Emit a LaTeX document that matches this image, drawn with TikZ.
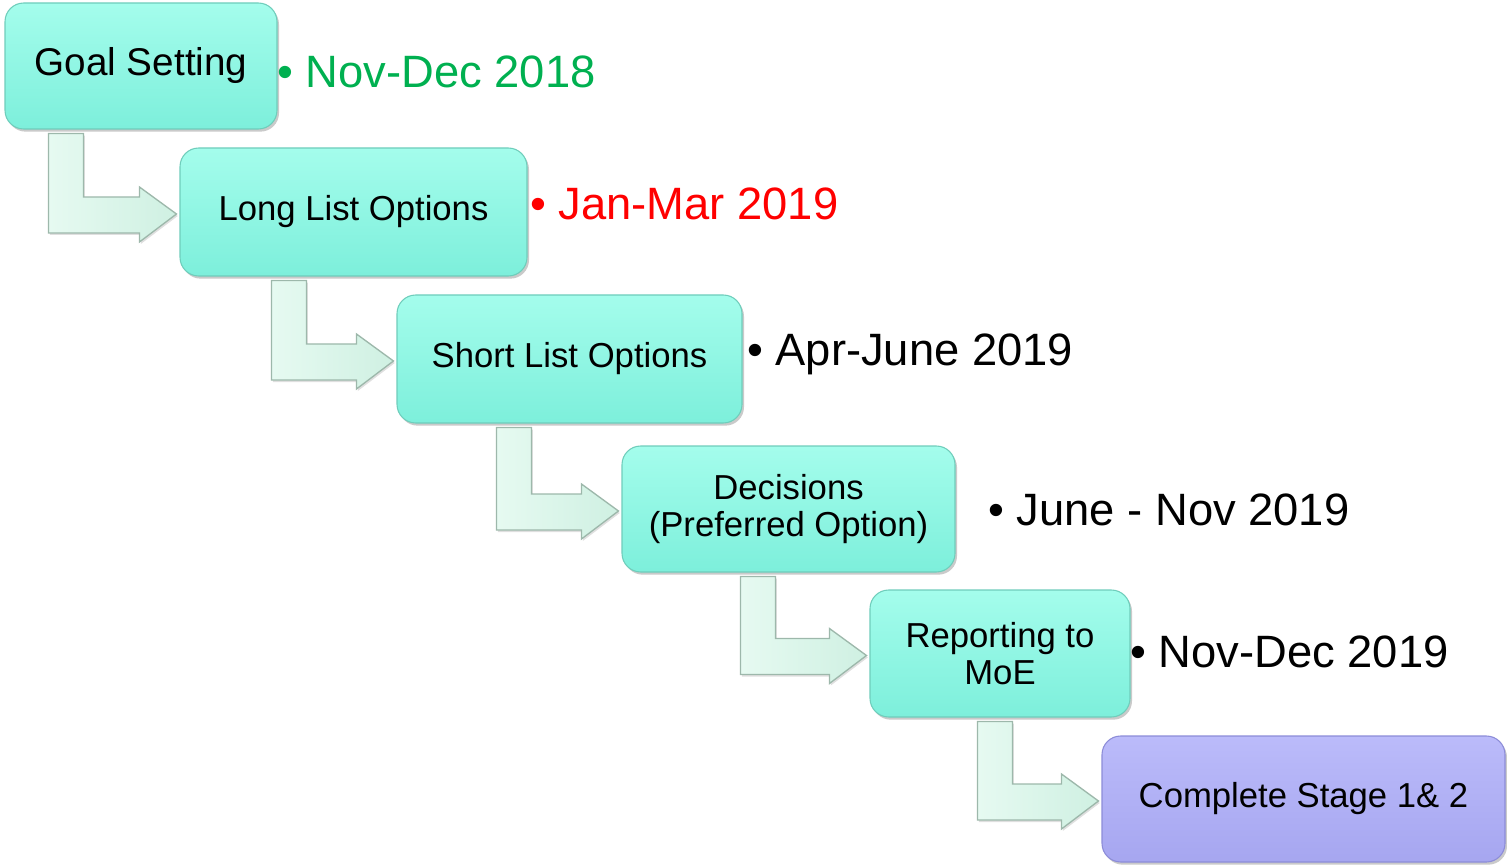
\documentclass[tikz,border=0pt]{standalone}
\usepackage{fontspec}
\setmainfont{Liberation Sans}
\usetikzlibrary{calc,shadows}
\definecolor{boxtop}{HTML}{A4FDEC}
\definecolor{boxbot}{HTML}{7DEFDB}
\definecolor{boxline}{HTML}{6FCDBB}
\definecolor{purtop}{HTML}{BBBBFA}
\definecolor{purbot}{HTML}{A6A6F0}
\definecolor{purline}{HTML}{8C8CD8}
\definecolor{arrowtop}{HTML}{E6FAF1}
\definecolor{arrowfill}{HTML}{CFF0E2}
\definecolor{arrowline}{HTML}{9DB8AB}
\definecolor{dategreen}{HTML}{00B050}
\definecolor{datered}{HTML}{FF0000}
\tikzset{
  stagebox/.style={rounded corners=14pt, draw=boxline, line width=0.8pt,
    top color=boxtop, bottom color=boxbot,
    drop shadow={shadow xshift=1.5pt, shadow yshift=-2pt, opacity=0.35, fill=black!60},
    align=center, text=black, inner sep=0pt,
    font=\fontsize{26}{28}\selectfont},
  finalbox/.style={stagebox, draw=purline, top color=purtop, bottom color=purbot},
  datelbl/.style={anchor=base west, inner sep=0pt, font=\fontsize{34}{40}\selectfont},
  bentarrow/.style={left color=arrowtop, right color=arrowfill, draw=arrowline,
    line width=1pt, line join=miter,
    drop shadow={shadow xshift=1pt, shadow yshift=-1.5pt, opacity=0.25, fill=black!50}}
}
% #1 from node, #2 to node, #3 offset of the vertical bar from the left edge of #1
\newcommand\stepconn[3]{%
  \draw[bentarrow]
    ($(#1.south west)+(#3,4)$) -- ($(#1.south west)+(#3+35,4)$)
    -- ($(#1.south west |- #2.west)+(#3+35,-15)$)
    -- ($(#2.west)+(-40,-15)$) -- ($(#2.west)+(-40,-25)$)
    -- ($(#2.west)+(-3,2)$)
    -- ($(#2.west)+(-40,30)$) -- ($(#2.west)+(-40,21)$)
    -- ($(#1.south west |- #2.west)+(#3,21)$) -- cycle;}
\begin{document}
\begin{tikzpicture}[x=0.75pt, y=-0.75pt]
\useasboundingbox (0,0) rectangle (1507,866);

\node[stagebox, minimum width=204pt, minimum height=94.5pt,
      font=\fontsize{29}{31}\selectfont] (g) at (141,66) {Goal Setting};
\node[stagebox, minimum width=260.25pt, minimum height=96pt] (l) at (353.5,212) {Long List Options};
\node[stagebox, minimum width=258.75pt, minimum height=96pt] (s) at (569.5,359) {Short List Options};
\node[stagebox, minimum width=249.75pt, minimum height=94.5pt] (d) at (788.5,509) {Decisions\\(Preferred Option)};
\node[stagebox, minimum width=195pt, minimum height=95.25pt] (r) at (1000,653.5) {Reporting to\\MoE};
\node[finalbox, minimum width=302.25pt, minimum height=94.5pt] (c) at (1303.5,799) {Complete Stage 1\& 2};

\stepconn{g}{l}{44}
\stepconn{l}{s}{92}
\stepconn{s}{d}{100}
\stepconn{d}{r}{119}
\stepconn{r}{c}{108}

\node[datelbl, text=dategreen] (t1) at (277,88) {\textbullet\ Nov-Dec 2018};
\node[datelbl, text=datered] (t2) at (530,220) {\textbullet\ Jan-Mar 2019};
\node[datelbl] (t3) at (747,365) {\textbullet\ Apr-June 2019};
\node[datelbl] (t4) at (988,525) {\textbullet\ June - Nov 2019};
\node[datelbl] (t5) at (1130,667) {\textbullet\ Nov-Dec 2019};
\end{tikzpicture}
\end{document}
